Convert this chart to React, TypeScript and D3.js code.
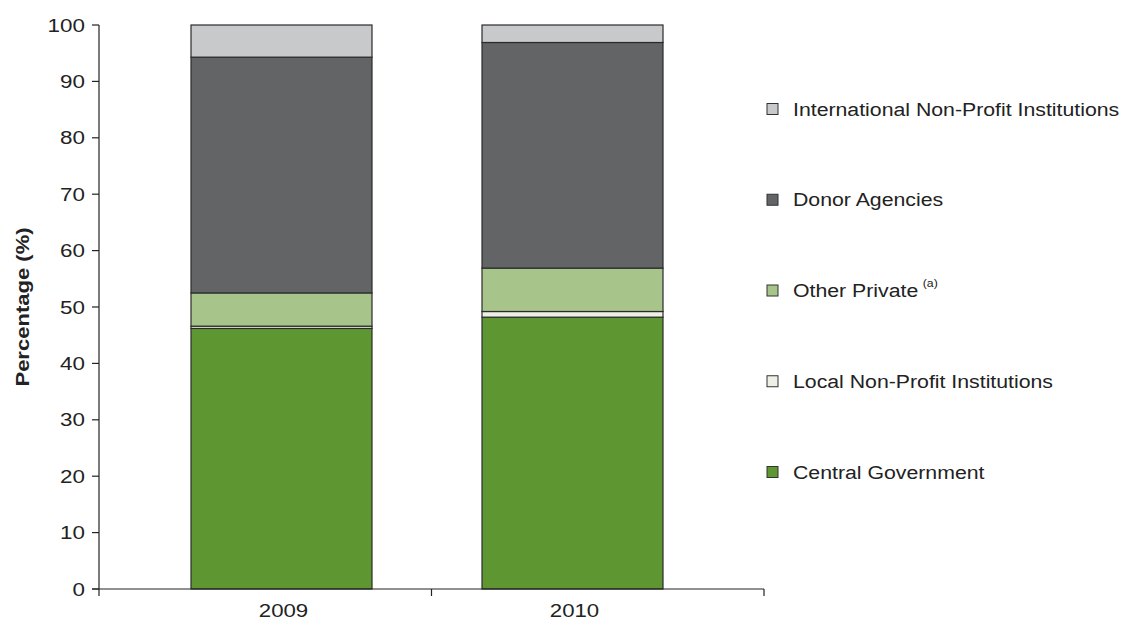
import React from "react";
import * as d3 from "d3";

const years = ["2009", "2010"];
const seriesNames = [
  "Central Government",
  "Local Non-Profit Institutions",
  "Other Private",
  "Donor Agencies",
  "International Non-Profit Institutions",
];
const centralGovernment = [46.2, 48.2];
const localNonProfit = [0.4, 1.0];
const otherPrivate = [5.9, 7.7];
const donorAgencies = [41.8, 40.0];
const internationalNonProfit = [5.7, 3.1];
const yTicks = [0, 10, 20, 30, 40, 50, 60, 70, 80, 90, 100];

const colors = ["#5e9732", "#eef0e6", "#a7c58b", "#636466", "#c8c9cb"];

const W = 1122;
const H = 621;

function T({
  x,
  y,
  sx,
  anchor = "start",
  size = 19,
  weight = "normal",
  rotate = 0,
  children,
}: any) {
  return (
    <g transform={`translate(${x},${y}) rotate(${rotate}) scale(${sx},1)`}>
      <text
        x={0}
        y={0}
        dy="0.35em"
        textAnchor={anchor}
        fontSize={size}
        fontWeight={weight}
        fill="#222"
      >
        {children}
      </text>
    </g>
  );
}

export default function App() {
  const table = years.map((y, i) => ({
    year: y,
    "Central Government": centralGovernment[i],
    "Local Non-Profit Institutions": localNonProfit[i],
    "Other Private": otherPrivate[i],
    "Donor Agencies": donorAgencies[i],
    "International Non-Profit Institutions": internationalNonProfit[i],
  }));
  const stack = d3.stack<any>().keys(seriesNames);
  const layers = stack(table);

  const y = d3.scaleLinear().domain([0, 100]).range([589, 25]);
  const xBand = d3.scaleBand().domain(years).range([99, 764]);
  const xBar = d3.scalePoint().domain(years).range([281.5, 572.5]);
  const barW = 181;

  const legendY = d3
    .scalePoint()
    .domain([...seriesNames].reverse())
    .range([109, 472]);

  const font = "'Liberation Sans', Arial, Helvetica, sans-serif";
  const boundaries = [...years.map((d) => xBand(d)!), 764];

  return (
    <svg
      width={W}
      height={H}
      style={{ position: "absolute", left: 0, top: 0, background: "#fff" }}
      fontFamily={font}
    >
      {layers.map((layer, li) =>
        layer.map((d, i) => (
          <rect
            key={`${li}-${i}`}
            x={xBar(years[i])! - barW / 2}
            y={y(d[1])}
            width={barW}
            height={Math.max(0, y(d[0]) - y(d[1]))}
            fill={colors[li]}
            stroke="#2b2b2b"
            strokeWidth={1.2}
          />
        ))
      )}
      {/* y axis */}
      <line x1={99} x2={99} y1={y(100)} y2={y(0)} stroke="#222" strokeWidth={1.2} />
      {yTicks.map((t) => (
        <g key={t}>
          <line x1={92} x2={99} y1={y(t)} y2={y(t)} stroke="#222" strokeWidth={1.2} />
          <T x={85} y={y(t)} sx={1.18} anchor="end">
            {t}
          </T>
        </g>
      ))}
      {/* x axis */}
      <line x1={92} x2={764} y1={y(0)} y2={y(0)} stroke="#222" strokeWidth={1.2} />
      {boundaries.map((b, i) => (
        <line key={i} x1={b} x2={b} y1={y(0)} y2={y(0) + 7} stroke="#222" strokeWidth={1.2} />
      ))}
      {years.map((yr) => (
        <T key={yr} x={xBar(yr)! + 2} y={610} sx={1.17} anchor="middle">
          {yr}
        </T>
      ))}
      <T
        x={22}
        y={(y(0) + y(100)) / 2}
        sx={1.16}
        rotate={-90}
        anchor="middle"
        weight="bold"
      >
        Percentage (%)
      </T>
      {/* legend */}
      {seriesNames.map((s, i) => (
        <g key={s} transform={`translate(0,${legendY(s)})`}>
          <rect x={767} y={-5.5} width={11} height={11} fill={colors[i]} stroke="#333" strokeWidth={1} />
          <T x={793} y={0} sx={1.12}>
            {s}
            {s === "Other Private" ? (
              <tspan fontSize={11} dy="-0.9em" dx={4}>
                (a)
              </tspan>
            ) : null}
          </T>
        </g>
      ))}
    </svg>
  );
}
